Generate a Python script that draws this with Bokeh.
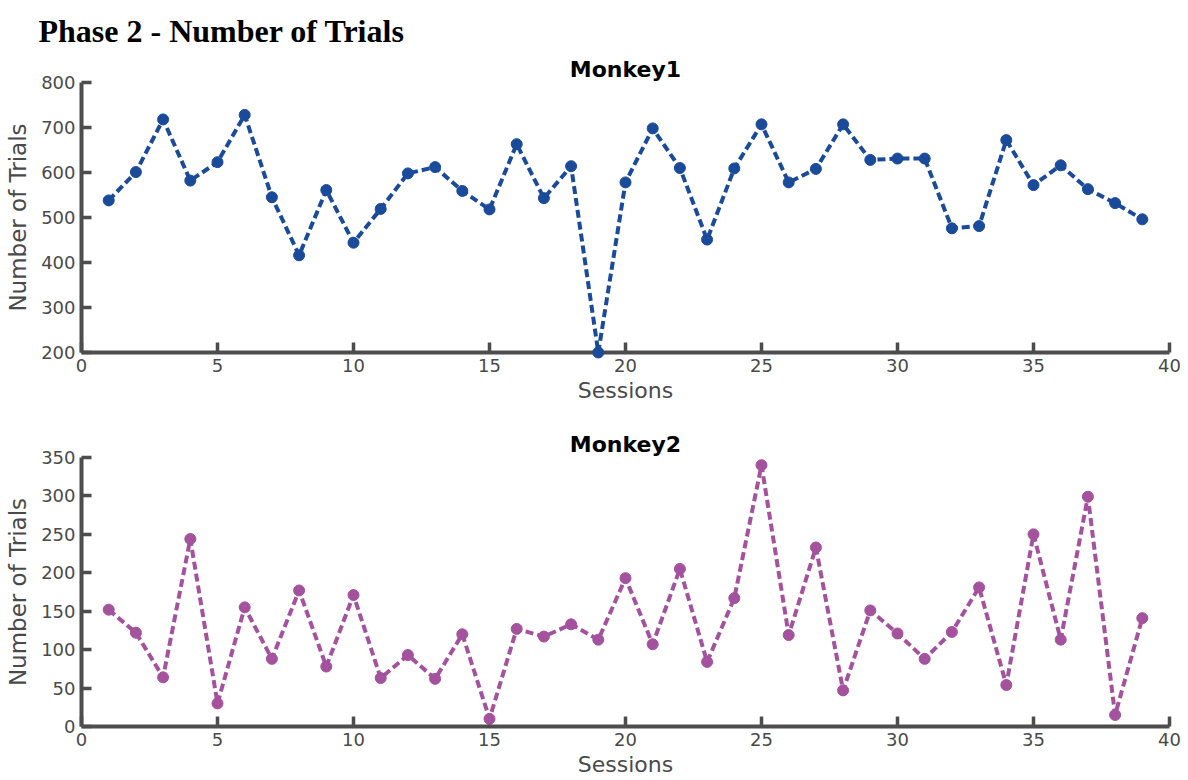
from bokeh.plotting import figure
from bokeh.layouts import column
from bokeh.models import Range1d, FixedTicker, Title
from bokeh.embed import file_html
from bokeh.resources import INLINE

# Number of trials per session, phase 2
sessions = list(range(1, 40))
monkey1_trials = [538, 601, 718, 582, 623, 728, 545, 416, 561, 444,
                  519, 598, 612, 559, 518, 663, 543, 614, 200, 578,
                  698, 610, 451, 609, 707, 578, 608, 707, 628, 631,
                  631, 476, 481, 672, 572, 616, 563, 532, 496]
monkey2_trials = [152, 122, 64, 244, 30, 155, 88, 177, 78, 171,
                  63, 93, 62, 120, 10, 127, 117, 133, 113, 193,
                  107, 205, 84, 167, 340, 119, 233, 47, 151, 121,
                  88, 123, 181, 54, 250, 113, 299, 15, 141]

x_ticks = [0, 5, 10, 15, 20, 25, 30, 35, 40]
y1_ticks = [200, 300, 400, 500, 600, 700, 800]
y2_ticks = [0, 50, 100, 150, 200, 250, 300, 350]

AXIS = "#4d4d4d"
LABEL = "#4a4a4a"
SANS = "DejaVu Sans"


def style_axes(p, yticks):
    p.xaxis.ticker = FixedTicker(ticks=x_ticks)
    p.yaxis.ticker = FixedTicker(ticks=yticks)
    p.xaxis.axis_label = "Sessions"
    p.yaxis.axis_label = "Number of Trials"
    for ax in (p.xaxis, p.yaxis):
        ax.axis_line_color = AXIS
        ax.axis_line_width = 4
        ax.major_tick_line_color = AXIS
        ax.major_tick_line_width = 3.5
        ax.major_tick_in = 10
        ax.major_tick_out = 0
        ax.minor_tick_line_color = None
        ax.major_label_text_font = SANS
        ax.major_label_text_font_size = "18px"
        ax.major_label_text_color = LABEL
        ax.axis_label_text_font = SANS
        ax.axis_label_text_font_style = "normal"
        ax.axis_label_text_color = LABEL
    p.xaxis.axis_label_text_font_size = "22px"
    p.yaxis.axis_label_text_font_size = "23px"
    p.xaxis.major_label_standoff = 6
    p.yaxis.major_label_standoff = 6
    p.xaxis.axis_label_standoff = 3
    p.yaxis.axis_label_standoff = 7
    p.xgrid.visible = False
    p.ygrid.visible = False
    p.outline_line_color = None


def make_panel(values, color, y_start, y_end, yticks, height, border_top, name):
    p = figure(width=1188, height=height, output_backend="svg",
               toolbar_location=None, title=None,
               x_range=Range1d(0, 40), y_range=Range1d(y_start, y_end),
               min_border_left=81, min_border_right=19,
               min_border_top=border_top, min_border_bottom=58)
    style_axes(p, yticks)
    # drawn at overlay level so marks on the axis are not cut by the frame
    p.line(sessions, values, line_color=color, line_width=4, line_dash="8 4",
           level="overlay")
    p.scatter(sessions, values, size=11, fill_color=color, line_color=color,
              level="overlay")
    p.add_layout(Title(text=name, align="center", text_font=SANS,
                       text_font_size="22px", text_font_style="bold",
                       text_color="black", standoff=2), "above")
    return p


p1 = make_panel(monkey1_trials, "#1a4b9b", 200, 800, y1_ticks, 410, 82, "Monkey1")
p1.add_layout(Title(text="Phase 2 - Number of Trials", align="left", offset=-43,
                    text_font="Liberation Serif", text_font_size="32px",
                    text_font_style="bold", text_color="black"), "above")

p2 = make_panel(monkey2_trials, "#a4529e", 0, 350, y2_ticks, 370, 47, "Monkey2")
p2.min_border_bottom = 54

layout = column(p1, p2)

open("out.html", "w").write(file_html(layout, INLINE))
